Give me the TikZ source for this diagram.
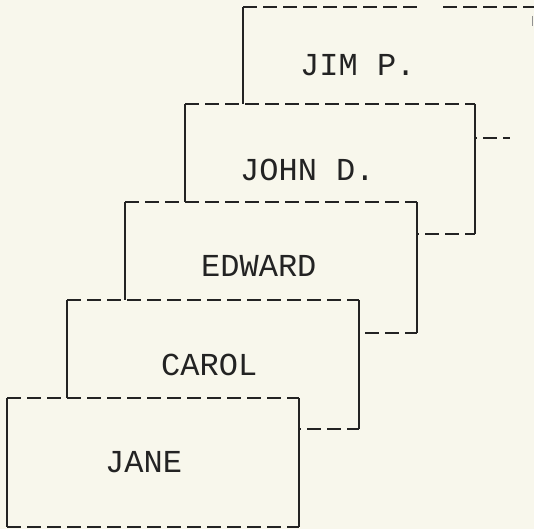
\documentclass[tikz,border=0pt]{standalone}
\usepackage{fontspec}
\setmonofont{Liberation Mono}
\definecolor{paper}{RGB}{248,247,236}
\definecolor{ink}{RGB}{35,35,35}
\tikzset{
  card/.style={rectangle, fill=paper, draw=none, inner sep=0pt, outer sep=0pt, anchor=north west},
  sideline/.style={draw=ink, line width=1.7pt, line cap=butt},
  hdash/.style={draw=ink, line width=2.3pt, dash pattern=on 14pt off 6pt},
  cardtext/.style={font=\ttfamily\fontsize{32}{36}\selectfont, text=ink, anchor=west, inner sep=0pt}
}
\begin{document}
\begin{tikzpicture}[x=1pt,y=-1pt]
\fill[paper] (0,0) rectangle (534,529);
\useasboundingbox (0,0) rectangle (534,529);

% JIM P. (back)
\node[card, minimum width=291pt, minimum height=131pt] (jim) at (243,7) {};
\coordinate (jimgapa) at (417,7);
\coordinate (jimgapb) at (443,7);
\coordinate (jimbotend) at (510,138);
\coordinate (jimtick1) at (532,16);
\coordinate (jimtick2) at (532,26);
\draw[hdash] (jim.north west) -- (jimgapa);
\draw[hdash] (jimgapb) -- (jim.north east);
\draw[sideline] (jim.north west) -- (jim.south west);
\draw[hdash] (jim.south west) -- (jimbotend);
\draw[sideline, line width=1pt, draw=ink!50] (jimtick1) -- (jimtick2);
\node[cardtext] (jimt) at (300,65) {JIM P.};

% JOHN D.
\node[card, minimum width=290pt, minimum height=130pt] (john) at (185,104) {};
\draw[hdash] (john.north west) -- (john.north east);
\draw[hdash] (john.south west) -- (john.south east);
\draw[sideline] (john.north west) -- (john.south west);
\draw[sideline] (john.north east) -- (john.south east);
\node[cardtext] (johnt) at (240,170) {JOHN D.};

% EDWARD
\node[card, minimum width=292pt, minimum height=131pt] (edward) at (125,202) {};
\draw[hdash] (edward.north west) -- (edward.north east);
\draw[hdash] (edward.south west) -- (edward.south east);
\draw[sideline] (edward.north west) -- (edward.south west);
\draw[sideline] (edward.north east) -- (edward.south east);
\node[cardtext] (edwardt) at (201,266) {EDWARD};

% CAROL
\node[card, minimum width=292pt, minimum height=129pt] (carol) at (67,300) {};
\draw[hdash] (carol.north west) -- (carol.north east);
\draw[hdash] (carol.south west) -- (carol.south east);
\draw[sideline] (carol.north west) -- (carol.south west);
\draw[sideline] (carol.north east) -- (carol.south east);
\node[cardtext] (carolt) at (161,365) {CAROL};

% JANE (front)
\node[card, minimum width=292pt, minimum height=129pt] (jane) at (7,398) {};
\draw[hdash] (jane.north west) -- (jane.north east);
\draw[hdash] (jane.south west) -- (jane.south east);
\draw[sideline] (jane.north west) -- (jane.south west);
\draw[sideline] (jane.north east) -- (jane.south east);
\node[cardtext] (janet) at (105,462) {JANE};
\end{tikzpicture}
\end{document}
